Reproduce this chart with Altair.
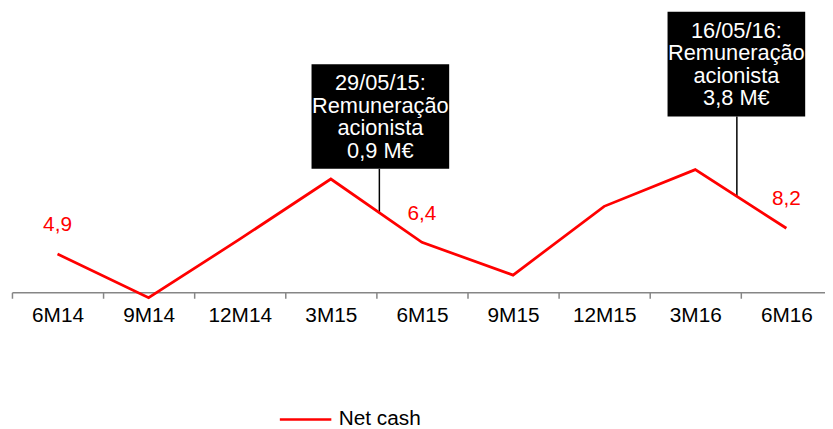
import altair as alt
import pandas as pd

# ---- data ----
periods = ["6M14", "9M14", "12M14", "3M15", "6M15", "9M15", "12M15", "3M16", "6M16"]
net_cash = [4.9, -0.7, 6.8, 14.5, 6.4, 2.2, 11.0, 15.7, 8.2]
value_labels = ["4,9", "", "", "", "6,4", "", "", "", "8,2"]
series_name = "Net cash"

ann_period = ["3M15", "3M16"]
ann_lines = [
    ["29/05/15:", "Remuneração", "acionista", "0,9 M€"],
    ["16/05/16:", "Remuneração", "acionista", "3,8 M€"],
]
ann_box_top = [29.2, 35.9]
ann_box_bottom = [15.8, 22.5]
ann_line_end = [10.1, 12.2]

FONT = "Liberation Sans"
RED = "#FF0000"
box_offsets = [50, 41.5]
rule_offsets = [49, 42]

df = pd.DataFrame({"period": periods, "value": net_cash,
                   "label": value_labels, "series": series_name})

x_enc = alt.X(
    "period:N", sort=periods, bandPosition=0.5,
    scale=alt.Scale(type="band", domain=periods, range=[0, 828],
                    paddingInner=0, paddingOuter=0),
    axis=alt.Axis(title=None, labelAngle=0, tickBand="extent", grid=False,
                  domainColor="#868686", domainWidth=1.5,
                  tickColor="#868686", tickWidth=1.5, tickSize=6,
                  labelFontSize=21, labelFont=FONT, labelColor="black",
                  labelPadding=6),
)
y_scale = alt.Scale(domain=[0, 36], nice=False, zero=False)

layers = []
for i in range(len(ann_period)):
    adf = pd.DataFrame({"period": [ann_period[i]], "top": [ann_box_top[i]],
                        "bottom": [ann_box_bottom[i]], "end": [ann_line_end[i]],
                        "text": [ann_lines[i]]})
    base = alt.Chart(adf)
    layers.append(base.mark_rule(color="black", strokeWidth=1.5, xOffset=rule_offsets[i]).encode(
        x=x_enc, y=alt.Y("bottom:Q", scale=y_scale, axis=None), y2="end:Q"))
    layers.append(base.mark_bar(color="black", width=139, xOffset=box_offsets[i]).encode(
        x=x_enc, y=alt.Y("top:Q", scale=y_scale, axis=None), y2="bottom:Q"))
    layers.append(base.mark_text(
        color="white", fontSize=22, font=FONT, lineHeight=22.8, baseline="middle",
        dy=19, xOffset=box_offsets[i]).encode(
        x=x_enc, y=alt.Y("top:Q", scale=y_scale, axis=None), text="text"))

line = alt.Chart(df).mark_line(strokeWidth=2.75).encode(
    x=x_enc,
    y=alt.Y("value:Q", scale=y_scale, axis=None),
    color=alt.Color("series:N", scale=alt.Scale(domain=[series_name], range=[RED]),
                    legend=alt.Legend(title=None, orient="none", legendX=269, legendY=385,
                                      symbolType="stroke", symbolSize=2704,
                                      symbolStrokeWidth=2.5, labelFontSize=21,
                                      labelFont=FONT, labelColor="black",
                                      labelOffset=6, padding=0)),
)
labels = alt.Chart(df).transform_filter("datum.label != ''").mark_text(
    color=RED, fontSize=21, font=FONT, dy=-29, baseline="middle").encode(
    x=x_enc, y=alt.Y("value:Q", scale=y_scale, axis=None), text="label:N")

chart = alt.layer(*layers, line, labels).properties(
    width=821, height=284,
    autosize=alt.AutoSizeParams(type="none"),
    padding={"left": 4, "top": 1, "right": 0, "bottom": 140},
).configure(font=FONT).configure_view(stroke=None)

chart.save("out.html", embed_options={"renderer": "svg", "actions": False})
